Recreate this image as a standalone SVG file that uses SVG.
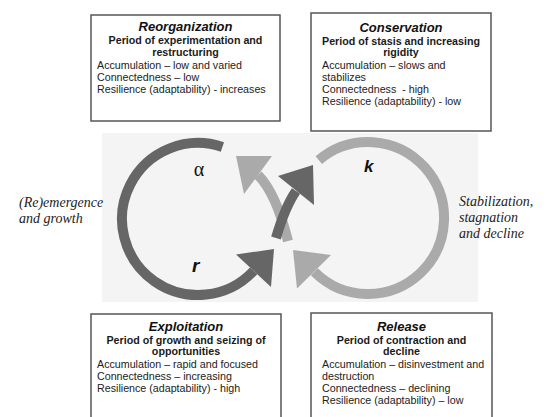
<svg xmlns="http://www.w3.org/2000/svg" width="557" height="417" viewBox="0 0 557 417">
  <style>
    .box { fill: #ffffff; stroke: #555555; stroke-width: 1.5; }
    .title { font-family: "Liberation Sans", Arial, sans-serif; font-size: 13px; font-weight: bold; font-style: italic; fill: #111111; text-anchor: middle; }
    .sub { font-family: "Liberation Sans", Arial, sans-serif; font-size: 10.7px; font-weight: bold; fill: #1a1a1a; text-anchor: middle; }
    .body { font-family: "Liberation Sans", Arial, sans-serif; font-size: 10.7px; fill: #222222; }
    .side { font-family: "Liberation Serif", "Times New Roman", serif; font-size: 14px; font-style: italic; fill: #222222; }
    .dark { fill: none; stroke: #666666; stroke-width: 10; }
    .light { fill: none; stroke: #aaaaaa; stroke-width: 10; }
    .darkhead { fill: #666666; }
    .lighthead { fill: #aaaaaa; }
    .greek { font-family: "Liberation Serif", "Times New Roman", serif; font-size: 20px; fill: #111111; text-anchor: middle; }
    .phase { font-family: "Liberation Sans", Arial, sans-serif; font-weight: bold; font-style: italic; fill: #111111; }
  </style>

  <rect id="panel" x="102" y="133" width="376" height="169" fill="#f4f4f4"/>

  <g id="connectors">
    <!-- left (r to alpha) loop, dark -->
    <path class="dark" d="M 222.4 147 A 76 76 0 1 0 253.6 270.8"/>
    <polygon class="darkhead" points="236,254.5 271,287 274,249"/>
    <!-- right (k to omega) loop, light -->
    <path class="light" d="M 318.8 160.1 A 76 76 0 1 1 314.3 271.7"/>
    <polygon class="lighthead" points="331,255 297,288.5 293,250"/>
    <!-- central crossing arrows -->
    <path class="light" d="M 288 241 Q 276 193 258 175"/>
    <polygon class="lighthead" points="272,156 244,194 236,156"/>
    <path class="dark" d="M 276 238 Q 285 207 296 191"/>
    <polygon class="darkhead" points="278,176 314,205 313,165"/>
  </g>

  <g id="cycle-labels">
    <text class="greek" x="199" y="175.5">α</text>
    <text class="phase" x="192" y="272" font-size="19">r</text>
    <text class="phase" x="364" y="171.5" font-size="17">k</text>
  </g>

  <g id="side-left">
    <text class="side" x="19" y="207">(Re)emergence</text>
    <text class="side" x="19" y="223">and growth</text>
  </g>
  <g id="side-right">
    <text class="side" x="459" y="206">Stabilization,</text>
    <text class="side" x="459" y="222">stagnation</text>
    <text class="side" x="459" y="238">and decline</text>
  </g>

  <g id="reorganization">
    <rect class="box" x="91" y="15" width="189" height="106"/>
    <text class="title" x="185.5" y="31">Reorganization</text>
    <text class="sub" x="185.5" y="44">Period of experimentation and</text>
    <text class="sub" x="185.5" y="55.5">restructuring</text>
    <text class="body" x="97" y="68.5">Accumulation – low and varied</text>
    <text class="body" x="97" y="80.5">Connectedness – low</text>
    <text class="body" x="97" y="92.5">Resilience (adaptability) - increases</text>
  </g>

  <g id="conservation">
    <rect class="box" x="311" y="13" width="180" height="118"/>
    <text class="title" x="401" y="32">Conservation</text>
    <text class="sub" x="401" y="44.5">Period of stasis and increasing</text>
    <text class="sub" x="401" y="56">rigidity</text>
    <text class="body" x="322" y="69">Accumulation – slows and</text>
    <text class="body" x="322" y="81">stabilizes</text>
    <text class="body" x="322" y="93" xml:space="preserve">Connectedness  - high</text>
    <text class="body" x="322" y="105">Resilience (adaptability) - low</text>
  </g>

  <g id="exploitation">
    <rect class="box" x="91" y="314" width="190" height="110"/>
    <text class="title" x="186" y="331">Exploitation</text>
    <text class="sub" x="186" y="343.5">Period of growth and seizing of</text>
    <text class="sub" x="186" y="355">opportunities</text>
    <text class="body" x="97" y="367.5">Accumulation – rapid and focused</text>
    <text class="body" x="97" y="379.5">Connectedness – increasing</text>
    <text class="body" x="97" y="391.5">Resilience (adaptability) - high</text>
  </g>

  <g id="release">
    <rect class="box" x="311" y="313" width="181" height="111"/>
    <text class="title" x="401.5" y="331">Release</text>
    <text class="sub" x="401.5" y="343.5">Period of contraction and</text>
    <text class="sub" x="401.5" y="355">decline</text>
    <text class="body" x="322" y="367.5">Accumulation – disinvestment and</text>
    <text class="body" x="322" y="379.5">destruction</text>
    <text class="body" x="322" y="391.5">Connectedness – declining</text>
    <text class="body" x="322" y="403.5">Resilience (adaptability) – low</text>
  </g>
</svg>
